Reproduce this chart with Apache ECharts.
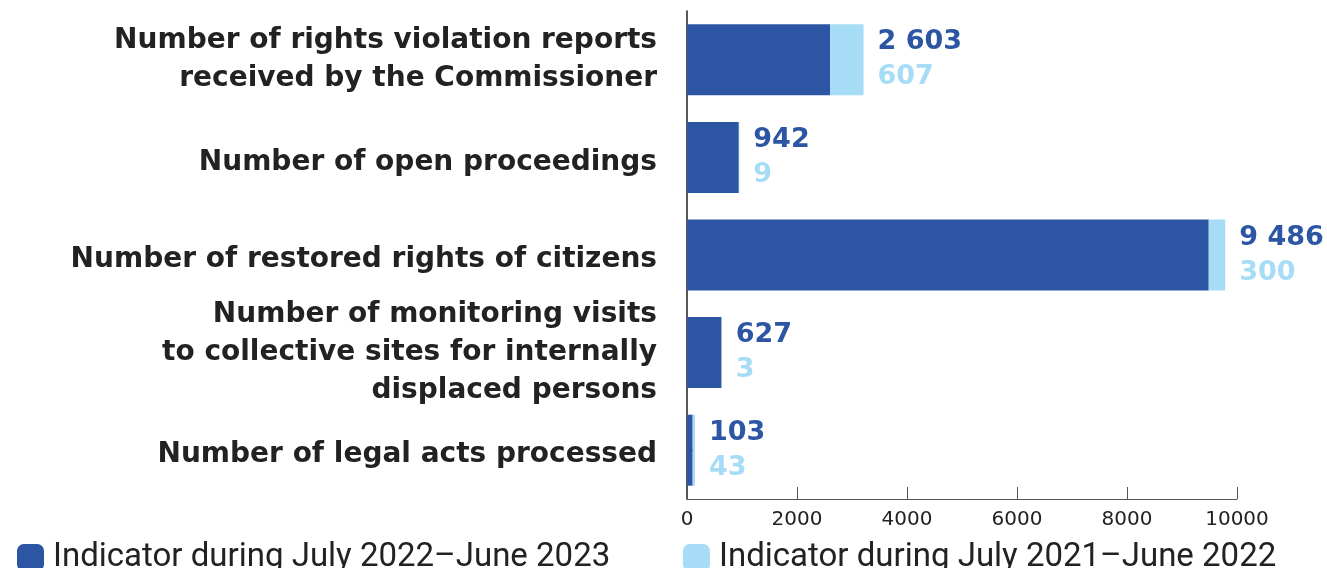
<!DOCTYPE html>
<html>
<head>
<meta charset="utf-8">
<script src="https://cdn.jsdelivr.net/npm/echarts@6/dist/echarts.min.js"></script>
<style>
  html, body { margin: 0; padding: 0; background: #fff; }
  #chart { width: 1327px; height: 568px; }
</style>
</head>
<body>
<div id="chart"></div>
<script>
// data
const categories = [
  'Number of rights violation reports\nreceived by the Commissioner',
  'Number of open proceedings',
  'Number of restored rights of citizens',
  'Number of monitoring visits\nto collective sites for internally\ndisplaced persons',
  'Number of legal acts processed'
]
const current = [2603, 942, 9486, 627, 103]
const previous = [607, 9, 300, 3, 43]
const seriesNames = ['Indicator during July 2022–June 2023', 'Indicator during July 2021–June 2022']
const xTicks = [0, 2000, 4000, 6000, 8000, 10000]

const DARK = '#2c56a3'
const LIGHT = '#a6dcf6'
const TEXT = '#222222'
const FONT = 'DejaVu Sans'

// 2603 -> "2 603"
function fmt (v) {
  return String(v).replace(/\B(?=(\d{3})+(?!\d))/g, ' ')
}

const chart = echarts.init(document.getElementById('chart'))
const legendText = { color: TEXT, fontSize: 33, fontFamily: 'Roboto', padding: [0, 0, 0, 4] }
const catStyle = { color: TEXT, fontSize: 28, fontWeight: 'bold', fontFamily: FONT, lineHeight: 38 }
const option = {
  animation: false,
  textStyle: { fontFamily: FONT },
  grid: { left: 687, right: 90, top: 11, bottom: 69, containLabel: false },
  legend: [{
    data: [seriesNames[0]],
    left: 12,
    top: 536,
    itemWidth: 27,
    itemHeight: 27,
    icon: 'roundRect',
    textStyle: legendText
  }, {
    data: [seriesNames[1]],
    left: 678,
    top: 536,
    itemWidth: 27,
    itemHeight: 27,
    icon: 'roundRect',
    textStyle: legendText
  }],
  xAxis: {
    type: 'value',
    min: xTicks[0],
    max: xTicks[xTicks.length - 1],
    interval: 2000,
    axisLine: { show: true, lineStyle: { color: '#555', width: 1 } },
    axisTick: { show: true, inside: true, length: 12, lineStyle: { color: '#555' } },
    splitLine: { show: false },
    axisLabel: {
      color: TEXT,
      fontSize: 20,
      fontFamily: FONT,
      margin: 11,
      formatter: function (v) { return String(v) }
    }
  },
  yAxis: {
    type: 'category',
    inverse: true,
    data: categories,
    axisLine: { show: true, lineStyle: { color: '#222', width: 1.5 } },
    axisTick: { show: true, inside: true, alignWithLabel: true, length: 6, lineStyle: { color: '#222' } },
    axisLabel: {
      color: TEXT,
      fontSize: 28,
      fontWeight: 'bold',
      fontFamily: FONT,
      lineHeight: 38,
      align: 'right',
      margin: 30,
      // single-line labels sit a little lower than the bar centre
      formatter: function (v) {
        return v.indexOf('\n') < 0 ? '{s|' + v + '}' : v
      },
      rich: {
        s: Object.assign({ padding: [10, 0, 0, 0] }, catStyle)
      }
    }
  },
  series: [{
    name: seriesNames[0],
    type: 'bar',
    stack: 'total',
    barWidth: 71,
    itemStyle: { color: DARK },
    data: current
  }, {
    name: seriesNames[1],
    type: 'bar',
    stack: 'total',
    barWidth: 71,
    itemStyle: { color: LIGHT },
    data: previous,
    label: {
      show: true,
      position: 'right',
      distance: 14,
      formatter: function (p) {
        return '{a|' + fmt(current[p.dataIndex]) + '}\n{b|' + fmt(previous[p.dataIndex]) + '}'
      },
      rich: {
        a: { color: DARK, fontSize: 27, fontWeight: 'bold', fontFamily: FONT, lineHeight: 35 },
        b: { color: LIGHT, fontSize: 27, fontWeight: 'bold', fontFamily: FONT, lineHeight: 35 }
      }
    }
  }]
}
chart.setOption(option)
</script>
</body>
</html>
